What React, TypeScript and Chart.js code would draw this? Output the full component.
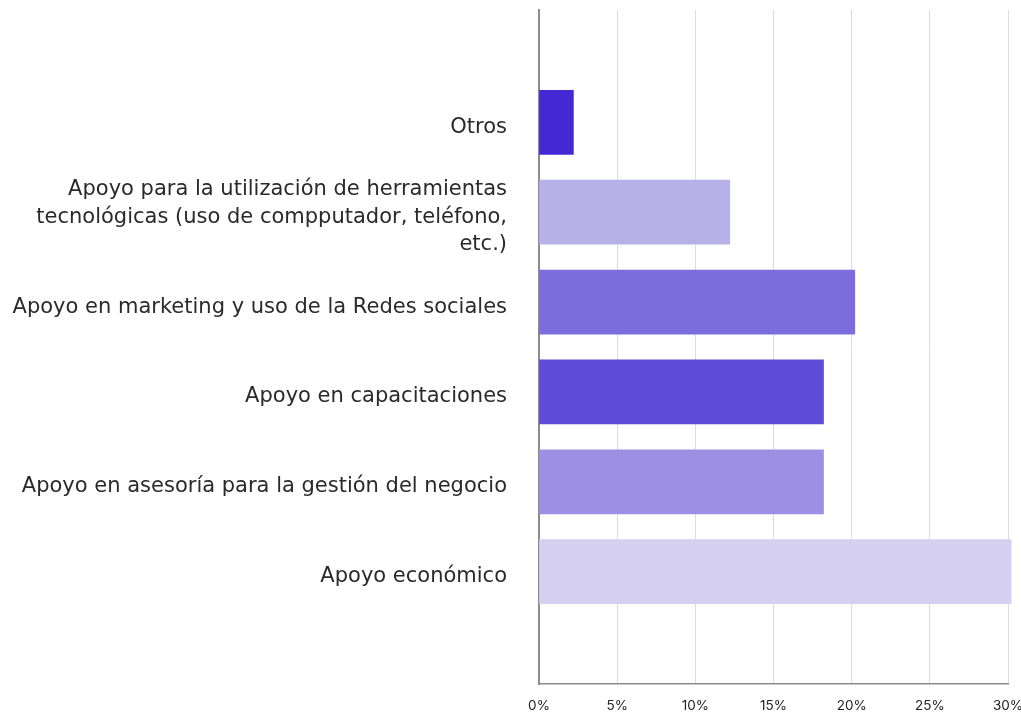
import React, { useEffect, useRef } from "react";
import { Chart, registerables } from "chart.js";

Chart.register(...registerables);

const categories: (string | string[])[] = [
  "Otros",
  [
    "Apoyo para la utilización de herramientas",
    "tecnológicas (uso de compputador, teléfono,",
    "etc.)",
  ],
  "Apoyo en marketing y uso de la Redes sociales",
  "Apoyo en capacitaciones",
  "Apoyo en asesoría para la gestión del negocio",
  "Apoyo económico",
];

const values = [2.2, 12.2, 20.2, 18.2, 18.2, 30.2];

const barColors = ["#4328D4", "#B8B0E9", "#7D6DDC", "#604BD8", "#9D90E4", "#D5D0EF"];

const xMin = 0;
const xMax = 30;
const xStep = 5;

export default function App() {
  const ref = useRef<HTMLCanvasElement | null>(null);

  useEffect(() => {
    if (!ref.current) return;
    const chart = new Chart(ref.current, {
      type: "bar",
      data: {
        datasets: [
          {
            data: values.map((v, i) => ({ x: v, y: i })),
            backgroundColor: barColors,
            barThickness: 64,
            borderWidth: 0,
            clip: false as any,
          },
        ],
      },
      options: {
        indexAxis: "y",
        animation: false,
        responsive: true,
        maintainAspectRatio: false,
        layout: { padding: { top: 10, right: 13, left: 0, bottom: 0 } },
        plugins: { legend: { display: false }, tooltip: { enabled: false } },
        scales: {
          x: {
            type: "linear",
            min: xMin,
            max: xMax,
            ticks: {
              stepSize: xStep,
              padding: 14,
              color: "#222",
              font: { family: "Inter", size: 13.5 },
              callback: (v: any) => `${v}%`,
            },
            grid: { color: "#dcdcdc", lineWidth: 1, drawTicks: false },
            border: { display: true, color: "#8c8c8c", width: 1.5 },
            afterFit: (axis: any) => {
              axis.height = 30;
              axis.paddingLeft = 0;
              axis.paddingRight = 0;
            },
          },
          y: {
            type: "linear",
            bounds: "data",
            offset: false,
            reverse: true,
            min: -1.25,
            max: 6.25,
            afterBuildTicks: (axis: any) => {
              axis.ticks = categories.map((_, i) => ({ value: i }));
            },
            ticks: {
              padding: 32,
              labelOffset: 5,
              color: "#2a2a2a",
              font: { family: "DejaVu Sans", size: 21, lineHeight: 1.3 },
              callback: (v: any) => categories[v as number] as any,
            },
            grid: { display: false, drawTicks: false, offset: false },
            border: { display: true, color: "#8c8c8c", width: 2 },
            afterFit: (axis: any) => {
              axis.width = 539;
              axis.paddingTop = 0;
              axis.paddingBottom = 0;
            },
          },
        },
      },
    });
    return () => chart.destroy();
  }, []);

  return (
    <div
      style={{
        position: "fixed",
        left: 0,
        top: 0,
        width: 1021,
        height: 714,
        background: "#fff",
      }}
    >
      <canvas ref={ref} />
    </div>
  );
}
